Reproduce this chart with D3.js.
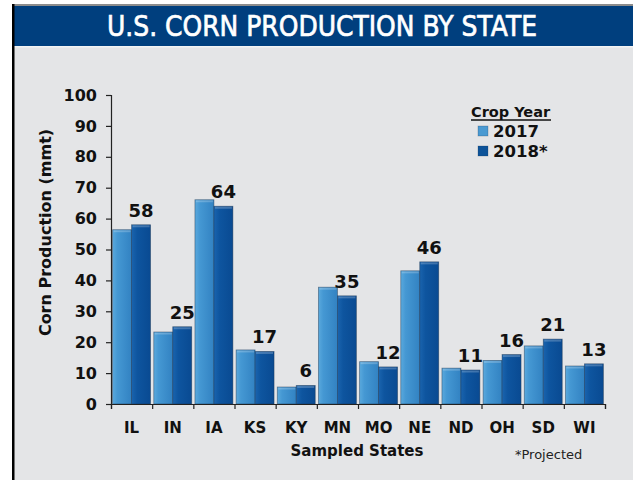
<!DOCTYPE html>
<html>
<head>
<meta charset="utf-8">
<script src="https://cdn.jsdelivr.net/npm/d3@7"></script>
<style>
  html, body { margin: 0; padding: 0; background: #fff; }
  svg { display: block; }
  text { font-family: "DejaVu Sans", "Liberation Sans", Arial, sans-serif; }
</style>
</head>
<body>
<div id="chart"></div>
<script>
// Corn production by state, million metric tons
const states = ["IL", "IN", "IA", "KS", "KY", "MN", "MO", "NE", "ND", "OH", "SD", "WI"];
const prod2017 = [56.4, 23.3, 66.1, 17.5, 5.5, 37.8, 13.7, 43.1, 11.6, 14.1, 18.8, 12.3];
const prod2018 = [58, 25, 64, 17, 6, 35, 12, 46, 11, 16, 21, 13];
const seriesNames = ["2017", "2018*"];
const yTicks = [0, 10, 20, 30, 40, 50, 60, 70, 80, 90, 100];

const W = 633, H = 480;
const margin = { left: 111, right: 28, top: 95, bottom: 76 };
const boldFont = "'DejaVu Sans', 'Liberation Sans', sans-serif";

const svg = d3.select("#chart").append("svg")
  .attr("width", W).attr("height", H);

const defs = svg.append("defs");
function barGradient(id, stops) {
  const g = defs.append("linearGradient").attr("id", id)
    .attr("x1", "0%").attr("x2", "100%").attr("y1", "0%").attr("y2", "0%");
  stops.forEach(s => g.append("stop").attr("offset", s[0]).attr("stop-color", s[1]));
}
barGradient("g2017", [["0%", "#5aa9dd"], ["25%", "#4598d3"], ["100%", "#3282c2"]]);
barGradient("g2018", [["0%", "#1a64ae"], ["30%", "#0e559f"], ["100%", "#094a92"]]);
const fills = ["url(#g2017)", "url(#g2018)"];
const swatch = ["#4a9ad2", "#0d5399"];

// page frame
svg.append("rect").attr("x", 13).attr("y", 4).attr("width", W - 13).attr("height", H - 4)
  .attr("fill", "#e4e5e7");
svg.append("rect").attr("x", 13).attr("y", 4).attr("width", W - 13).attr("height", 2)
  .attr("fill", "#8c8c8c");
svg.append("rect").attr("x", 13).attr("y", 6).attr("width", W - 13).attr("height", 40)
  .attr("fill", "#003f7e");
svg.append("rect").attr("x", 13).attr("y", 46).attr("width", W - 13).attr("height", 1.5)
  .attr("fill", "#f2f3f4");
svg.append("rect").attr("x", 12).attr("y", 4).attr("width", 2.5).attr("height", H - 4)
  .attr("fill", "#000");

// header title, condensed horizontally to fit its slot
const title = svg.append("text")
  .attr("text-anchor", "middle")
  .attr("fill", "#fff")
  .attr("stroke", "#fff")
  .attr("stroke-width", 0.7)
  .attr("font-size", 28)
  .attr("font-family", "'Liberation Sans', Arial, sans-serif")
  .text("U.S. CORN PRODUCTION BY STATE");
const natural = title.node().getComputedTextLength();
const sx = Math.min(1, 430 / natural);
title.attr("transform", `translate(322,36) scale(${sx},1)`);

// scales
const x0 = d3.scaleBand().domain(states)
  .range([margin.left, W - margin.right]).paddingInner(0).paddingOuter(0);
const x1 = d3.scaleBand().domain(seriesNames)
  .range([0, x0.bandwidth()]).paddingOuter(0.085).paddingInner(0);
const y = d3.scaleLinear().domain([0, 100]).range([H - margin.bottom, margin.top]);

const data = states.map((s, i) => ({ state: s, values: [prod2017[i], prod2018[i]] }));

// bars
const groups = svg.append("g").selectAll("g").data(data).join("g")
  .attr("transform", d => `translate(${x0(d.state)},0)`);

groups.selectAll("rect.bar").data(d => d.values.map((v, k) => ({ v, k })))
  .join("rect").attr("class", "bar")
  .attr("x", d => x1(seriesNames[d.k]))
  .attr("y", d => y(d.v))
  .attr("width", x1.bandwidth())
  .attr("height", d => y(0) - y(d.v))
  .attr("fill", d => fills[d.k])
  .attr("stroke", "#1d3550")
  .attr("stroke-opacity", 0.55)
  .attr("stroke-width", 0.8);

// top highlight strip
groups.selectAll("rect.cap").data(d => d.values.map((v, k) => ({ v, k })))
  .join("rect").attr("class", "cap")
  .attr("x", d => x1(seriesNames[d.k]) + 1)
  .attr("y", d => y(d.v) + 0.5)
  .attr("width", x1.bandwidth() - 2)
  .attr("height", 2)
  .attr("fill", "#fff")
  .attr("opacity", 0.22);

// value labels over the 2018 bars
groups.append("text")
  .attr("x", x1("2018*") + x1.bandwidth() / 2)
  .attr("y", d => y(d.values[1]) - 8)
  .attr("text-anchor", "middle")
  .attr("font-weight", "bold")
  .attr("font-size", 18)
  .attr("font-family", boldFont)
  .attr("fill", "#111")
  .text(d => d3.format("d")(d.values[1]));

// axes
const yAxis = d3.axisLeft(y).tickValues(yTicks).tickSize(5).tickPadding(9);
const gy = svg.append("g").attr("transform", `translate(${margin.left},0)`).call(yAxis);
gy.select(".domain").attr("stroke", "#222").attr("stroke-width", 1.2);
gy.selectAll(".tick line").attr("stroke", "#222").attr("stroke-width", 1.2);
gy.selectAll(".tick text").attr("font-size", 16).attr("font-weight", "bold")
  .attr("fill", "#111").attr("font-family", boldFont);

const xTickScale = d3.scaleLinear().domain([0, states.length])
  .range([margin.left, W - margin.right]);
const xAxis = d3.axisBottom(xTickScale).ticks(states.length).tickSize(5).tickFormat("");
const gx = svg.append("g").attr("transform", `translate(0,${y(0)})`).call(xAxis);
gx.select(".domain").attr("stroke", "#222").attr("stroke-width", 1.2);
gx.selectAll(".tick line").attr("stroke", "#222").attr("stroke-width", 1.2);

svg.append("g").selectAll("text").data(states).join("text")
  .attr("x", d => x0(d) + x0.bandwidth() / 2)
  .attr("y", 433)
  .attr("text-anchor", "middle")
  .attr("font-size", 15)
  .attr("font-weight", "bold")
  .attr("font-family", boldFont)
  .attr("fill", "#111")
  .text(d => d);

svg.append("text")
  .attr("x", 357).attr("y", 456)
  .attr("text-anchor", "middle")
  .attr("font-size", 15).attr("font-weight", "bold").attr("fill", "#111")
  .attr("font-family", boldFont)
  .text("Sampled States");

svg.append("text")
  .attr("transform", `translate(51,${(y(0) + y(100)) / 2 - 17}) rotate(-90)`)
  .attr("text-anchor", "middle")
  .attr("font-size", 16).attr("font-weight", "bold").attr("fill", "#111")
  .attr("font-family", boldFont)
  .text("Corn Production (mmt)");

svg.append("text")
  .attr("x", 515).attr("y", 459)
  .attr("font-size", 13).attr("fill", "#222")
  .attr("font-family", "'Liberation Sans', Arial, sans-serif")
  .text("*Projected");

// legend
const lg = svg.append("g");
lg.append("text").attr("x", 471).attr("y", 117)
  .attr("font-size", 14.5).attr("font-weight", "bold").attr("fill", "#111")
  .attr("font-family", boldFont)
  .text("Crop Year");
lg.append("line").attr("x1", 471).attr("x2", 551).attr("y1", 120).attr("y2", 120)
  .attr("stroke", "#111").attr("stroke-width", 1.3);
seriesNames.forEach((name, k) => {
  const yy = 126 + k * 20;
  lg.append("rect").attr("x", 478).attr("y", yy).attr("width", 10).attr("height", 10)
    .attr("fill", swatch[k]).attr("stroke", "#1d3550").attr("stroke-opacity", 0.4).attr("stroke-width", 0.6);
  lg.append("text").attr("x", 493).attr("y", yy + 11)
    .attr("font-size", 16.5).attr("font-weight", "bold").attr("fill", "#111")
    .attr("font-family", boldFont)
    .text(name);
});
</script>
</body>
</html>
